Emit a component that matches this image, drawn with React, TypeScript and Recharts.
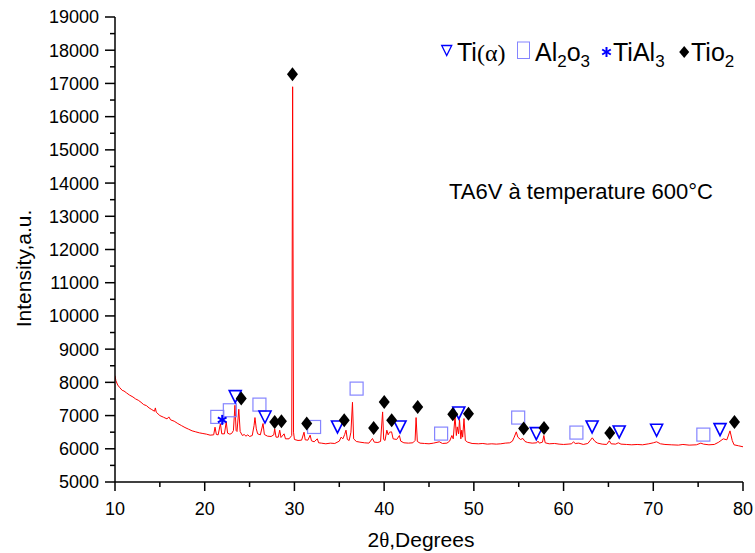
import React from 'react';
import { ComposedChart, Line, Scatter, XAxis, YAxis, Customized } from 'recharts';

// XRD pattern (2θ in degrees, intensity a.u.)
const pattern: [number, number][] = [
  [10.0, 8200], [10.1, 8050], [10.3, 7920], [10.5, 7850], [10.8, 7760], [11.0, 7740],
  [11.3, 7680], [11.6, 7620], [12.0, 7560], [12.3, 7500], [12.6, 7460], [12.9, 7400],
  [13.2, 7330], [13.5, 7300], [13.8, 7230], [14.1, 7180], [14.4, 7130], [14.5, 7230],
  [14.6, 7100], [15.0, 7000], [15.4, 6950], [15.8, 6900], [16.0, 6960], [16.2, 6870],
  [16.6, 6830], [17.0, 6760], [17.4, 6700], [17.8, 6640], [18.2, 6590], [18.6, 6540],
  [19.0, 6510], [19.4, 6480], [19.8, 6460], [20.2, 6440], [20.6, 6410], [21.0, 6420],
  [21.15, 6650], [21.3, 6430], [21.5, 6420], [21.75, 6760], [21.9, 6450], [22.2, 6450],
  [22.4, 6810], [22.55, 6470], [22.8, 6440], [23.0, 6460], [23.2, 6550], [23.37, 7310],
  [23.5, 6550], [23.6, 6520], [23.8, 7190], [23.95, 6520], [24.2, 6400], [24.4, 6430],
  [24.6, 6380], [24.8, 6420], [25.0, 6370], [25.3, 6400], [25.5, 6700], [25.6, 6940],
  [25.75, 6600], [25.9, 6450], [26.2, 6420], [26.5, 6760], [26.65, 6430], [27.0, 6380],
  [27.4, 6370], [27.7, 6420], [27.8, 6600], [27.95, 6350], [28.2, 6350], [28.36, 6560],
  [28.5, 6340], [28.85, 6450], [29.0, 6300], [29.4, 6300], [29.7, 6400], [29.8, 16900],
  [29.9, 6500], [30.0, 6280], [30.4, 6250], [30.8, 6260], [31.07, 6500], [31.2, 6270],
  [31.5, 6260], [31.75, 6410], [31.9, 6240], [32.2, 6210], [32.55, 6300], [32.7, 6180],
  [33.0, 6170], [33.5, 6150], [34.0, 6170], [34.5, 6160], [35.0, 6230], [35.2, 6350],
  [35.4, 6300], [35.6, 6430], [35.75, 6560], [35.9, 6280], [36.1, 6250], [36.3, 6500],
  [36.47, 7400], [36.6, 6300], [36.9, 6220], [37.3, 6200], [37.8, 6180], [38.3, 6170],
  [38.7, 6310], [38.9, 6200], [39.3, 6190], [39.6, 6220], [39.83, 7110], [39.95, 6280],
  [40.1, 6250], [40.3, 6560], [40.45, 6420], [40.6, 6500], [40.83, 6510], [41.0, 6300],
  [41.4, 6280], [41.7, 6400], [41.85, 6230], [42.2, 6180], [42.7, 6170], [43.2, 6180],
  [43.45, 6250], [43.56, 6940], [43.7, 6220], [44.0, 6170], [44.5, 6160], [45.0, 6150],
  [45.5, 6170], [46.15, 6210], [46.5, 6160], [47.0, 6170], [47.3, 6230], [47.55, 6400],
  [47.7, 6300], [47.9, 6980], [48.05, 6400], [48.15, 6660], [48.3, 6450], [48.4, 6880],
  [48.55, 6300], [48.65, 6560], [48.75, 6350], [48.9, 6910], [49.05, 6250], [49.3, 6200],
  [49.8, 6160], [50.5, 6150], [51.0, 6160], [51.5, 6140], [52.0, 6150], [52.5, 6140],
  [53.0, 6150], [53.5, 6170], [54.0, 6180], [54.3, 6230], [54.5, 6350], [54.73, 6510],
  [54.9, 6350], [55.2, 6280], [55.47, 6310], [55.7, 6220], [56.0, 6190], [56.5, 6170],
  [57.0, 6180], [57.15, 6230], [57.3, 6170], [57.65, 6200], [57.8, 6400], [57.95, 6180],
  [58.4, 6150], [59.0, 6160], [59.5, 6140], [60.0, 6130], [60.5, 6140], [60.9, 6150],
  [61.1, 6210], [61.3, 6160], [61.7, 6170], [62.2, 6130], [62.7, 6160], [63.0, 6260],
  [63.2, 6330], [63.5, 6220], [63.8, 6170], [64.3, 6140], [64.8, 6130], [65.1, 6240],
  [65.3, 6150], [65.8, 6140], [66.1, 6180], [66.4, 6140], [67.0, 6130], [67.6, 6120],
  [68.2, 6130], [68.8, 6120], [69.5, 6150], [70.0, 6180], [70.37, 6210], [70.8, 6150],
  [71.3, 6130], [72.0, 6120], [72.8, 6110], [73.3, 6130], [74.0, 6110], [74.8, 6120],
  [75.3, 6170], [75.6, 6140], [76.2, 6120], [76.8, 6130], [77.3, 6200], [77.8, 6300],
  [78.2, 6270], [78.55, 6540], [78.8, 6250], [79.0, 6120], [79.5, 6090], [80.0, 6060],
];

// Phase markers
const tiAlphaPeaks: [number, number][] = [
  [23.4, 7570], [26.72, 6957], [34.8, 6657], [41.77, 6657], [48.32, 7078],
  [56.96, 6457], [63.18, 6657], [66.2, 6506], [70.37, 6557], [77.44, 6578],
];
const al2o3Peaks: [number, number][] = [
  [21.4, 6960], [22.8, 7160], [26.1, 7330], [32.19, 6657], [36.93, 7812],
  [46.35, 6457], [54.94, 6940], [61.43, 6488], [75.58, 6427],
];
const tiAl3Peaks: [number, number][] = [[21.95, 6870]];
const tio2Peaks: [number, number][] = [
  [24.07, 7511], [27.8, 6807], [28.55, 6828], [29.78, 17276], [31.37, 6758],
  [35.55, 6858], [38.83, 6626], [40.01, 7409], [40.84, 6858], [43.74, 7258],
  [47.65, 7038], [49.4, 7058], [55.55, 6608], [57.82, 6626], [65.15, 6476], [79.05, 6807],
];

const xTicks = [10, 15, 20, 25, 30, 35, 40, 45, 50, 55, 60, 65, 70, 75, 80];
const yTicks = [
  5000, 5500, 6000, 6500, 7000, 7500, 8000, 8500, 9000, 9500, 10000, 10500, 11000,
  11500, 12000, 12500, 13000, 13500, 14000, 14500, 15000, 15500, 16000, 16500,
  17000, 17500, 18000, 18500, 19000,
];

const toPts = (a: [number, number][]) => a.map(([x, y]) => ({ x, y }));
const lineData = toPts(pattern);

const SANS = '"Liberation Sans", Arial, sans-serif';
const SERIF = '"Liberation Serif", "Times New Roman", serif';
const BLUE = '#0000ff';
const LAV = '#8585ff';

const triPath = (cx: number, cy: number, s = 6) =>
  `M${cx - s},${cy - s}L${cx + s},${cy - s}L${cx},${cy + s}Z`;
const diaPath = (cx: number, cy: number, w = 5.5, h = 7) =>
  `M${cx},${cy - h}L${cx + w},${cy}L${cx},${cy + h}L${cx - w},${cy}Z`;

const TriShape = (p: any) => (
  <path d={triPath(p.cx, p.cy)} fill="none" stroke={BLUE} strokeWidth={1.6} />
);
const SqShape = (p: any) => (
  <rect x={p.cx - 6.5} y={p.cy - 6.5} width={13} height={13} fill="none" stroke={LAV} strokeWidth={1.2} />
);
const DiaShape = (p: any) => <path d={diaPath(p.cx, p.cy)} fill="#000" />;
const StarShape = (p: any) => {
  const { cx, cy } = p;
  const r = 5;
  const a = (r * Math.sqrt(3)) / 2;
  return (
    <g stroke={BLUE} strokeWidth={2}>
      <line x1={cx} y1={cy - r} x2={cx} y2={cy + r} />
      <line x1={cx - a} y1={cy - r / 2} x2={cx + a} y2={cy + r / 2} />
      <line x1={cx - a} y1={cy + r / 2} x2={cx + a} y2={cy - r / 2} />
    </g>
  );
};

const YTick = (props: any) => {
  const { x, y, payload } = props;
  const v = payload.value;
  const major = v % 1000 === 0;
  return (
    <g>
      <line x1={x - (major ? 10 : 5)} x2={x} y1={y} y2={y} stroke="#000" strokeWidth={1.5} />
      {major && (
        <text x={x - 16} y={y} dy="0.36em" textAnchor="end" fontSize={18} fontFamily={SANS} fill="#000">
          {v}
        </text>
      )}
    </g>
  );
};

const XTick = (props: any) => {
  const { x, y, payload } = props;
  const v = payload.value;
  const major = v % 10 === 0;
  return (
    <g>
      <line x1={x} x2={x} y1={y} y2={y + (major ? 9 : 5)} stroke="#000" strokeWidth={1.5} />
      {major && (
        <text x={x} y={y + 33} textAnchor="middle" fontSize={18} fontFamily={SANS} fill="#000">
          {v}
        </text>
      )}
    </g>
  );
};

const YTitle = (props: any) => {
  const vb = props.viewBox || { x: 0, y: 17, width: 115, height: 465 };
  const tx = vb.x + 30.5;
  const ty = vb.y + vb.height / 2 + 19;
  return (
    <text x={tx} y={ty} textAnchor="middle" fontSize={21} fontFamily={SANS} fill="#000"
      transform={`rotate(-90, ${tx}, ${ty})`}>
      Intensity,a.u.
    </text>
  );
};

const XTitle = (props: any) => {
  const vb = props.viewBox || { x: 115, y: 482, width: 628, height: 71 };
  const tx = vb.x + vb.width / 2 - 8;
  const ty = vb.y + 65;
  return (
    <text x={tx} y={ty} textAnchor="middle" fontSize={21} fontFamily={SANS} fill="#000">
      2<tspan fontFamily={SERIF}>θ</tspan>,Degrees
    </text>
  );
};

const LegendAndNote = () => (
  <g fontFamily={SANS} fill="#000">
    <path d={triPath(446.7, 50.5, 5)} fill="none" stroke={BLUE} strokeWidth={1.3} />
    <text x={457} y={61} fontSize={25}>
      Ti<tspan fontFamily={SERIF} fontSize={24}>(α)</tspan>
    </text>
    <rect x={517.5} y={42} width={12} height={16.5} fill="none" stroke={LAV} strokeWidth={1} />
    <text x={535} y={61} fontSize={25}>
      Al<tspan fontSize={17} dy={6}>2</tspan><tspan dy={-6}>o</tspan><tspan fontSize={17} dy={6}>3</tspan>
    </text>
    <StarShape cx={606.5} cy={52} />
    <text x={613} y={61} fontSize={25}>
      TiAl<tspan fontSize={17} dy={6}>3</tspan>
    </text>
    <path d={diaPath(684.2, 52, 5, 6)} fill="#000" />
    <text x={691} y={61} fontSize={25}>
      Tio<tspan fontSize={17} dy={6}>2</tspan>
    </text>
    <text x={449} y={199} fontSize={22}>TA6V à temperature 600°C</text>
  </g>
);

export default function App() {
  return (
    <div style={{ position: 'absolute', left: 0, top: 0, width: 755, height: 553, background: '#fff' }}>
      <ComposedChart
        width={755}
        height={553}
        data={lineData}
        margin={{ top: 17, right: 12, bottom: 0, left: 0 }}
      >
        <XAxis
          dataKey="x"
          type="number"
          domain={[10, 80]}
          ticks={xTicks}
          interval={0}
          allowDataOverflow
          height={71}
          tickSize={0}
          tickMargin={0}
          tickLine={false}
          tick={<XTick />}
          axisLine={{ stroke: '#000', strokeWidth: 1.5 }}
          label={{ content: <XTitle /> } as any}
        />
        <XAxis
          xAxisId="top"
          orientation="top"
          type="number"
          domain={[10, 80]}
          height={0}
          tick={false}
          tickLine={false}
          axisLine={{ stroke: '#000', strokeWidth: 1.5 }}
        />
        <YAxis
          type="number"
          domain={[5000, 19000]}
          ticks={yTicks}
          interval={0}
          allowDataOverflow
          width={115}
          tickSize={0}
          tickMargin={0}
          tickLine={false}
          tick={<YTick />}
          axisLine={{ stroke: '#000', strokeWidth: 1.5 }}
          label={{ content: <YTitle /> } as any}
        />
        <YAxis
          yAxisId="right"
          orientation="right"
          type="number"
          domain={[5000, 19000]}
          width={0}
          tick={false}
          tickLine={false}
          axisLine={{ stroke: '#000', strokeWidth: 1.5 }}
        />
        <Line
          dataKey="y"
          type="linear"
          stroke="#ff0000"
          strokeWidth={1}
          dot={false}
          activeDot={false}
          isAnimationActive={false}
        />
        <Scatter data={toPts(al2o3Peaks)} dataKey="y" shape={SqShape} isAnimationActive={false} />
        <Scatter data={toPts(tiAlphaPeaks)} dataKey="y" shape={TriShape} isAnimationActive={false} />
        <Scatter data={toPts(tiAl3Peaks)} dataKey="y" shape={StarShape} isAnimationActive={false} />
        <Scatter data={toPts(tio2Peaks)} dataKey="y" shape={DiaShape} isAnimationActive={false} />
        <Customized component={LegendAndNote} />
      </ComposedChart>
    </div>
  );
}
